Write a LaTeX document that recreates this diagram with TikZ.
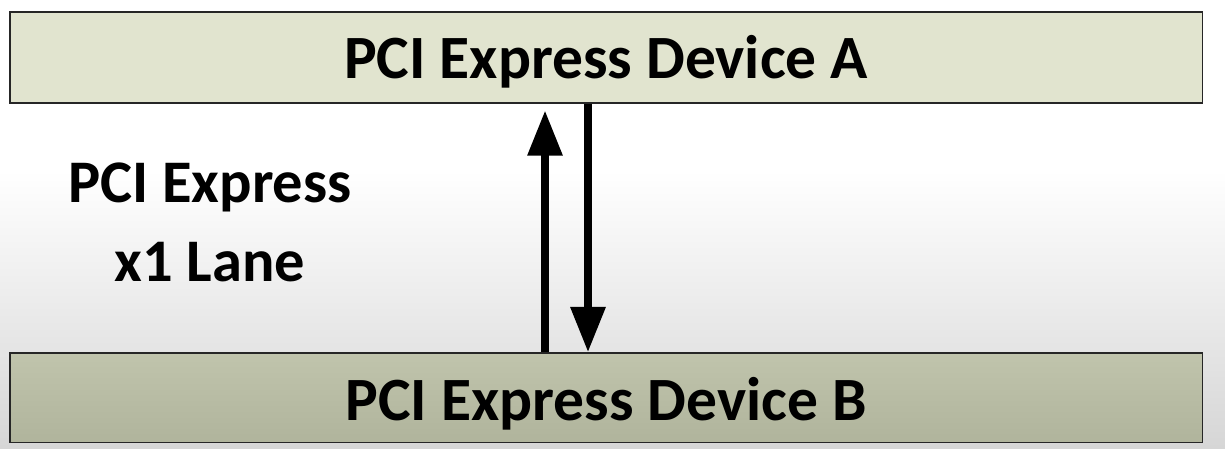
\documentclass[tikz,border=0pt]{standalone}
\usepackage{fontspec}
\setmainfont{Carlito}
\usetikzlibrary{arrows.meta,calc}
\definecolor{DevAClr}{RGB}{225,228,207}
\definecolor{DevBTopClr}{RGB}{192,196,172}
\definecolor{DevBBotClr}{RGB}{176,180,156}
\definecolor{BgClr}{RGB}{214,214,214}
\tikzset{
  device/.style={draw=black!85,line width=0.45pt,minimum width=11.92cm,minimum height=0.91cm,
    inner sep=0pt,text height=11.1pt,text depth=0pt,font=\fontsize{17.5}{20}\selectfont\bfseries},
  lanearrow/.style={line width=2pt,-{Triangle[width=9.6pt,length=12.8pt]}}
}
\begin{document}
\begin{tikzpicture}[x=0.01cm,y=-0.01cm]
\useasboundingbox (0,0) rectangle (1225,448);
\fill[white] (0,0) rectangle (1225,448);
\shade[top color=white,bottom color=BgClr] (0,170) rectangle (1225,448);

\node[device,fill=DevAClr,anchor=north west] (devA) at (9,11) {\raisebox{-0.6pt}{PCI Express Device A}};
\node[device,top color=DevBTopClr,bottom color=DevBBotClr,anchor=north west,minimum height=0.895cm] (devB) at (9,352) {\raisebox{-1pt}{PCI Express Device B}};

\node[font=\fontsize{17.2}{22.5}\selectfont\bfseries,align=center] (lane) at (210,222) {PCI Express\\x1 Lane};

\coordinate (upx) at (545,0);
\coordinate (downx) at (588,0);

\draw[lanearrow] (devB.north -| upx) -- ($(devA.south -| upx)+(0,7)$);
\draw[lanearrow] (devA.south -| downx) -- (devB.north -| downx);

\end{tikzpicture}
\end{document}
